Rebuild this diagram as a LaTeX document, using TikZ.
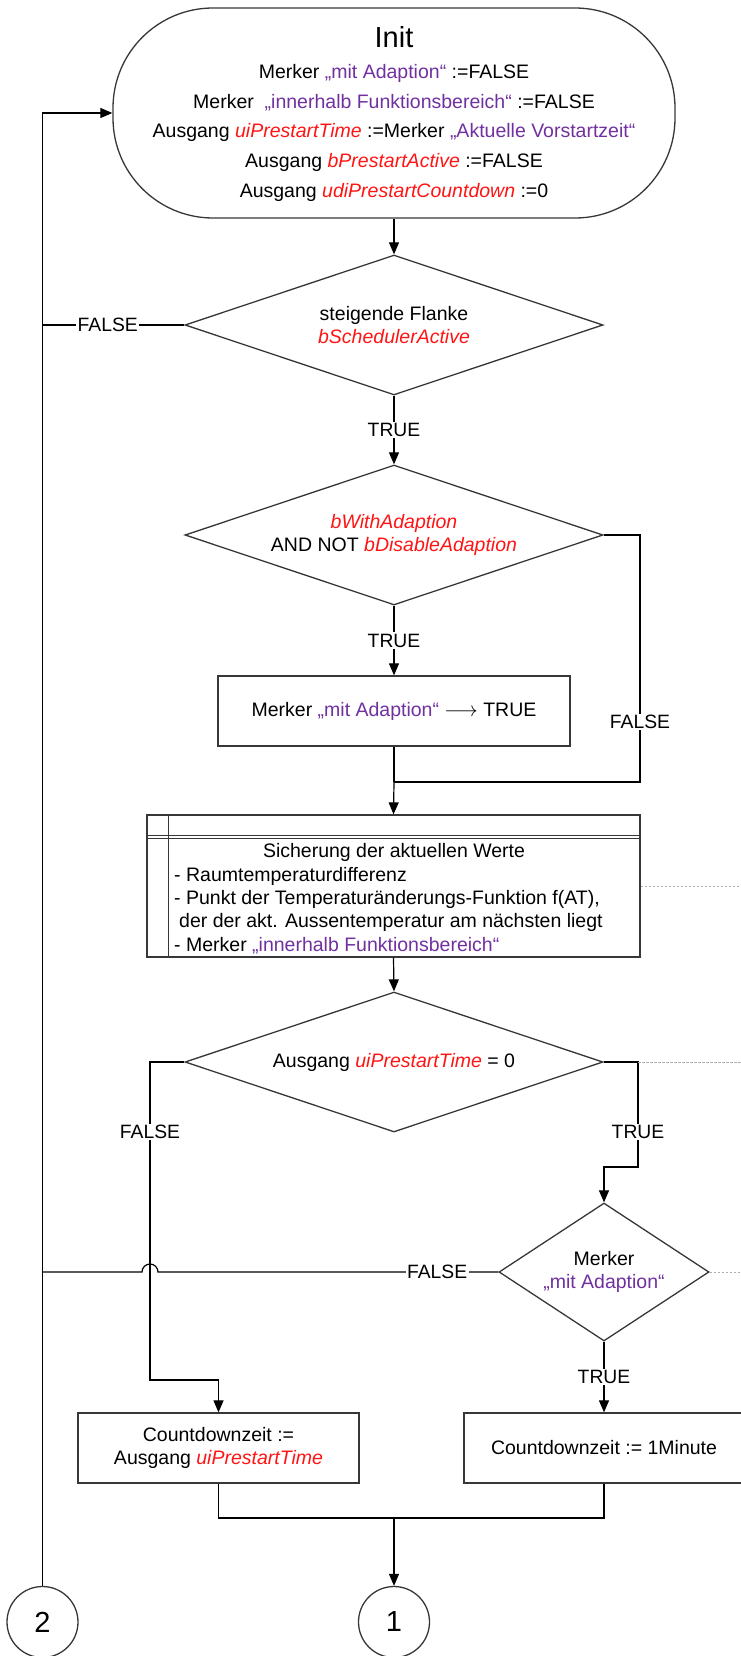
\documentclass[tikz,border=0pt]{standalone}
\usepackage{fontspec}
\setmainfont{Liberation Sans}
\usetikzlibrary{shapes.geometric,arrows.meta}
\definecolor{vred}{RGB}{255,20,20}
\definecolor{vpurple}{RGB}{112,48,160}
\definecolor{edgec}{RGB}{55,55,55}
\definecolor{dotc}{RGB}{175,175,175}
\newcommand{\rv}[1]{\textcolor{vred}{\textit{#1}}}
\newcommand{\pv}[1]{\textcolor{vpurple}{„#1“}}
\begin{document}
\begin{tikzpicture}[x=1pt,y=-1pt,
  shp/.style={draw=edgec, line width=1.3pt},
  txt/.style={font=\fontsize{19.5}{23.5}\selectfont, inner sep=0pt, align=center},
  big/.style={font=\fontsize{29}{32}\selectfont, inner sep=0pt},
  lbl/.style={font=\fontsize{19.3}{21}\selectfont, fill=white, inner sep=1.5pt},
  conn/.style={draw=black, line width=1.2pt},
  arr/.style={conn, -{Triangle[length=12pt,width=10pt]}},
  dot/.style={draw=dotc, line width=1pt, dash pattern=on 2.5pt off 1.5pt},
  dia/.style={shp, diamond, aspect=3, inner sep=0pt, font=\fontsize{19.5}{23.5}\selectfont, align=center},
  procbox/.style={shp, rectangle, inner sep=0pt, font=\fontsize{19.5}{23.5}\selectfont, align=center},
  conn2/.style={shp, circle, inner sep=0pt, minimum size=71pt, font=\fontsize{29}{32}\selectfont}
]
\useasboundingbox (0,0) rectangle (740,1656);

% Init
\node[shp, rectangle, rounded corners=100pt, minimum width=562pt, minimum height=210pt] (init) at (394,113) {};
\node[big, anchor=base] (tInit) at (394,48) {Init};
\node[txt, anchor=base] (tI1) at (394,79) {Merker \pv{mit Adaption} :=FALSE};
\node[txt, anchor=base] (tI2) at (394,108.5) {Merker\ \ \pv{innerhalb Funktionsbereich} :=FALSE};
\node[txt, anchor=base] (tI3) at (394,138) {Ausgang \rv{uiPrestartTime} :=Merker \pv{Aktuelle Vorstartzeit}};
\node[txt, anchor=base] (tI4) at (394,167.5) {Ausgang \rv{bPrestartActive} :=FALSE};
\node[txt, anchor=base] (tI5) at (394,197) {Ausgang \rv{udiPrestartCountdown} :=0};

% decisions and boxes
\node[dia, minimum width=418pt, minimum height=140pt] (d1) at (394,325) {steigende Flanke\\\rv{bSchedulerActive}};
\node[dia, minimum width=418pt, minimum height=140pt] (d2) at (394,535) {\rv{bWithAdaption}\\AND NOT \rv{bDisableAdaption}};
\node[procbox, minimum width=352pt, minimum height=70pt] (b1) at (394,711) {Merker \pv{mit Adaption} $\longrightarrow$ TRUE};

\node[shp, rectangle, minimum width=493pt, minimum height=142pt] (sub) at (393.5,886) {};
\draw[draw=edgec, line width=1pt] ([yshift=-21pt]sub.north west) -- ([yshift=-21pt]sub.north east);
\draw[draw=edgec, line width=1pt] ([yshift=-24pt]sub.north west) -- ([yshift=-24pt]sub.north east);
\draw[draw=edgec, line width=1.2pt] ([xshift=22pt]sub.north west) -- ([xshift=22pt]sub.south west);
\node[txt, anchor=base] (s0) at (394,857) {Sicherung der aktuellen Werte};
\node[txt, anchor=base west] (s1) at (174,881) {- Raumtemperaturdifferenz};
\node[txt, anchor=base west] (s2) at (174,904.5) {- Punkt der Temperaturänderungs-Funktion f(AT),};
\node[txt, anchor=base west] (s3) at (179,927.5) {der der akt. Aussentemperatur am nächsten liegt};
\node[txt, anchor=base west] (s4) at (174,951) {- Merker \pv{innerhalb Funktionsbereich}};

\node[dia, minimum width=418pt, minimum height=140pt] (d3) at (394,1062) {Ausgang \rv{uiPrestartTime} = 0};
\node[dia, aspect=1.5, minimum width=210pt, minimum height=138pt] (d4) at (604,1272) {Merker\\\pv{mit Adaption}};

\node[procbox, minimum width=281pt, minimum height=70pt] (b2) at (218.5,1448) {Countdownzeit :=\\Ausgang \rv{uiPrestartTime}};
\node[procbox, minimum width=280pt, minimum height=70pt] (b3) at (604,1448) {Countdownzeit := 1Minute};

\node[conn2] (c1) at (394,1622) {1};
\node[conn2] (c2) at (42.5,1622) {2};

% coordinates
\coordinate (j1) at (394,782);
\coordinate (r1) at (640,535);
\coordinate (l3) at (150,1062);
\coordinate (l3b) at (150,1380);
\coordinate (r3) at (638,1062);
\coordinate (r3b) at (638,1167);
\coordinate (hop) at (158,1272);
\coordinate (j2) at (394,1518);
\coordinate (eR1) at (741,886);
\coordinate (eR3) at (741,1062);
\coordinate (eR4) at (741,1272);

% connectors
\draw[arr] (init.south) -- (d1.north);
\draw[arr] (c2.north) -- (c2.north |- init.west) -- (init.west);
\draw[conn] (d1.west) -- node[lbl, pos=0.54]{FALSE} (d1.west -| c2.north);
\draw[arr] (d1.south) -- node[lbl]{TRUE} (d2.north);
\draw[arr] (d2.south) -- node[lbl]{TRUE} (b1.north);
\draw[conn] (d2.east) -- (r1) -- node[lbl, pos=0.757]{FALSE} (r1 |- j1) -- (j1);
\draw[conn] (b1.south) -- (j1);
\draw[arr] (j1) -- (sub.north);
\draw[dot] (sub.east) -- (eR1);
\draw[arr] (sub.south) -- (d3.north);
\draw[arr] (d3.west) -- (l3) -- node[lbl, pos=0.22]{FALSE} (l3b) -- (l3b -| b2.north) -- (b2.north);
\draw[arr] (d3.east) -- (r3) -- node[lbl, pos=0.667]{TRUE} (r3b) -- (r3b -| d4.north) -- (d4.north);
\draw[dot] (r3) -- (eR3);
\draw[dot] (d4.east) -- (eR4);
\draw[conn] (d4.west) -- node[lbl, pos=0.18]{FALSE} (hop) arc (0:180:8pt) -- (d4.west -| c2.north);
\draw[arr] (d4.south) -- node[lbl]{TRUE} (b3.north);
\draw[conn] (b2.south) -- (b2.south |- j2) -- (b3.south |- j2) -- (b3.south);
\draw[arr] (j2) -- (c1.north);
\end{tikzpicture}
\end{document}
